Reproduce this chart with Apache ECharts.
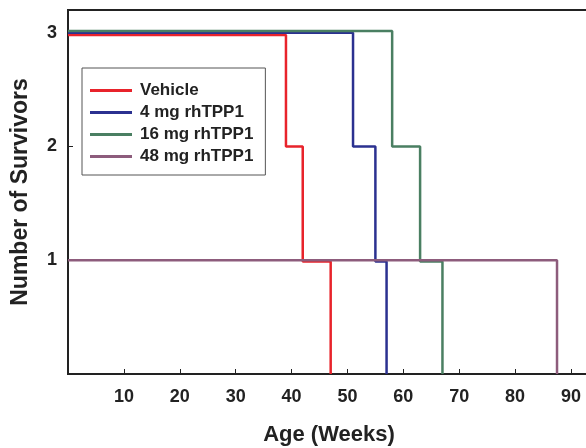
<!DOCTYPE html>
<html>
<head>
<meta charset="utf-8">
<script src="https://cdn.jsdelivr.net/npm/echarts@6/dist/echarts.min.js"></script>
<style>
html, body { margin: 0; padding: 0; background: #fff; }
#chart { width: 586px; height: 448px; }
</style>
</head>
<body>
<div id="chart"></div>
<script>
// survival steps: week of each change, survivors from that week on
var seriesNames = ['Vehicle', '4 mg rhTPP1', '16 mg rhTPP1', '48 mg rhTPP1']
var colors = ['#e8232b', '#2b3190', '#4a7f62', '#8d5c7c']

var vehicleWeeks = [0, 39, 42, 47]
var vehicleCounts = [2.98, 2, 0.99, 0]
var mg4Weeks = [0, 51, 55, 57]
var mg4Counts = [3, 2, 0.99, 0]
var mg16Weeks = [0, 58, 63, 67]
var mg16Counts = [3.015, 2, 0.99, 0]
var mg48Weeks = [0, 87.5]
var mg48Counts = [1, 0]

var xTicks = [10, 20, 30, 40, 50, 60, 70, 80, 90]
var yTicks = [1, 2, 3]

var allWeeks = [vehicleWeeks, mg4Weeks, mg16Weeks, mg48Weeks]
var allCounts = [vehicleCounts, mg4Counts, mg16Counts, mg48Counts]

var font = 'Liberation Sans, Arial, Helvetica, sans-serif'

var series = []
for (var i = 0; i < seriesNames.length; i++) {
  var pts = []
  for (var j = 0; j < allWeeks[i].length; j++) {
    pts.push([allWeeks[i][j], allCounts[i][j]])
  }
  series.push({
    name: seriesNames[i],
    type: 'line',
    step: 'end',
    symbol: 'none',
    data: pts,
    lineStyle: { color: colors[i], width: 2.5 },
    itemStyle: { color: colors[i] },
    z: 2 + i
  })
}

var option = {
  animation: false,
  backgroundColor: '#fff',
  grid: {
    left: 68,
    top: 10,
    width: 522,
    height: 364,
    outerBoundsMode: 'none',
    containLabel: false,
    show: true,
    borderColor: '#222',
    borderWidth: 2
  },
  legend: {
    orient: 'vertical',
    left: 82,
    top: 68,
    padding: [14, 12, 10, 8],
    itemGap: 5,
    itemWidth: 42,
    itemHeight: 3,
    icon: 'rect',
    borderColor: '#555',
    borderWidth: 1,
    textStyle: { fontFamily: font, fontWeight: 'bold', fontSize: 17, color: '#222', padding: [0, 0, 0, 3] },
    data: seriesNames
  },
  xAxis: {
    type: 'value',
    min: 0,
    max: 93.4,
    interval: 10,
    name: 'Age (Weeks)',
    nameLocation: 'middle',
    nameGap: 50,
    nameTextStyle: { fontFamily: font, fontWeight: 'bold', fontSize: 22, color: '#222' },
    splitLine: { show: false },
    axisLine: { lineStyle: { color: '#222', width: 2 } },
    axisTick: { inside: true, length: 5, lineStyle: { color: '#222' } },
    axisLabel: {
      margin: 14,
      fontFamily: font, fontWeight: 'bold', fontSize: 18, color: '#222',
      formatter: function (v) { return xTicks.indexOf(v) >= 0 ? String(v) : '' }
    }
  },
  yAxis: {
    type: 'value',
    min: 0,
    max: 3.2,
    interval: 1,
    name: 'Number of Survivors',
    nameLocation: 'middle',
    nameGap: 36,
    nameTextStyle: { fontFamily: font, fontWeight: 'bold', fontSize: 23, color: '#222' },
    splitLine: { show: false },
    axisLine: { lineStyle: { color: '#222', width: 2 } },
    axisTick: { inside: true, length: 5, lineStyle: { color: '#222' } },
    axisLabel: {
      margin: 11,
      fontFamily: font, fontWeight: 'bold', fontSize: 18, color: '#222',
      formatter: function (v) { return yTicks.indexOf(v) >= 0 ? String(v) : '' }
    }
  },
  series: series
}

var chart = echarts.init(document.getElementById('chart'))
chart.setOption(option)
</script>
</body>
</html>
